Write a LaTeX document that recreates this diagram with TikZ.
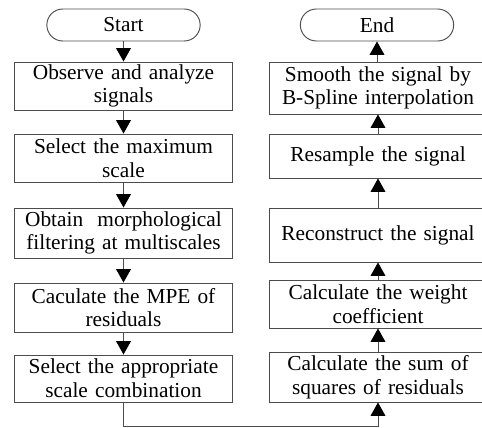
\documentclass[tikz,border=0pt]{standalone}
\usepackage{fontspec}
\setmainfont{Liberation Serif}
\usepackage{tikz}
\usetikzlibrary{arrows.meta,positioning}

\tikzset{
  proc/.style={draw=black!70, line width=0.7pt, rectangle, align=center,
    minimum width=163pt, text width=160pt, inner sep=0pt,
    font=\fontsize{16}{17.8}\selectfont},
  term/.style={draw=black!70, line width=0.7pt, rectangle, rounded corners=12pt,
    minimum width=115pt, minimum height=24pt, inner sep=0pt,
    font=\fontsize{16}{17.8}\selectfont},
  arr/.style={draw=black!70, line width=0.7pt,
    -{Triangle[width=11pt,length=10pt,fill=black,color=black]}}
}

\begin{document}
\begin{tikzpicture}[x=0.75pt, y=-0.75pt]
            \useasboundingbox (0,0) rectangle (482,428);
            % left column
            \node[term] at (123.5,25) (start) {Start};
            \node[proc, minimum height=36pt] at (123.5,86) (observe) {Observe and analyze\\signals};
            \node[proc, minimum height=36pt] at (123.5,158) (maxscale) {Select the maximum\\scale};
            \node[proc, minimum height=37.5pt] at (123.5,233) (filter) {Obtain~ morphological\\filtering at multiscales};
            \node[proc, minimum height=36.75pt] at (123.5,307.5) (mpe) {Caculate the MPE of\\residuals};
            \node[proc, minimum height=35.25pt] at (123.5,378.5) (combo) {Select the appropriate\\scale combination};
            % right column
            \node[term] at (377,25) (end) {End};
            \node[proc, minimum height=39pt] at (378,88) (smooth) {Smooth the signal by\\B-Spline interpolation};
            \node[proc, minimum height=33pt] at (378,156) (resample) {Resample the signal};
            \node[proc, minimum height=40.5pt] at (378,235) (rebuild) {Reconstruct the signal};
            \node[proc, minimum height=36pt] at (378,304) (weight) {Calculate the weight\\coefficient};
            \node[proc, minimum height=37.5pt] at (378,377) (sumsq) {Calculate the sum of\\squares of residuals};
            \coordinate (turn) at (123.5,426);
            % connectors
            \draw[arr] (start) -- (observe);
            \draw[arr] (observe) -- (maxscale);
            \draw[arr] (maxscale) -- (filter);
            \draw[arr] (filter) -- (mpe);
            \draw[arr] (mpe) -- (combo);
            \draw[arr] (combo) -- (turn) -| (sumsq);
            \draw[arr] (sumsq) -- (weight);
            \draw[arr] (weight) -- (rebuild);
            \draw[arr] (rebuild) -- (resample);
            \draw[arr] (resample) -- (smooth);
            \draw[arr] (smooth.north -| end) -- (end);
        \end{tikzpicture}
\end{document}
